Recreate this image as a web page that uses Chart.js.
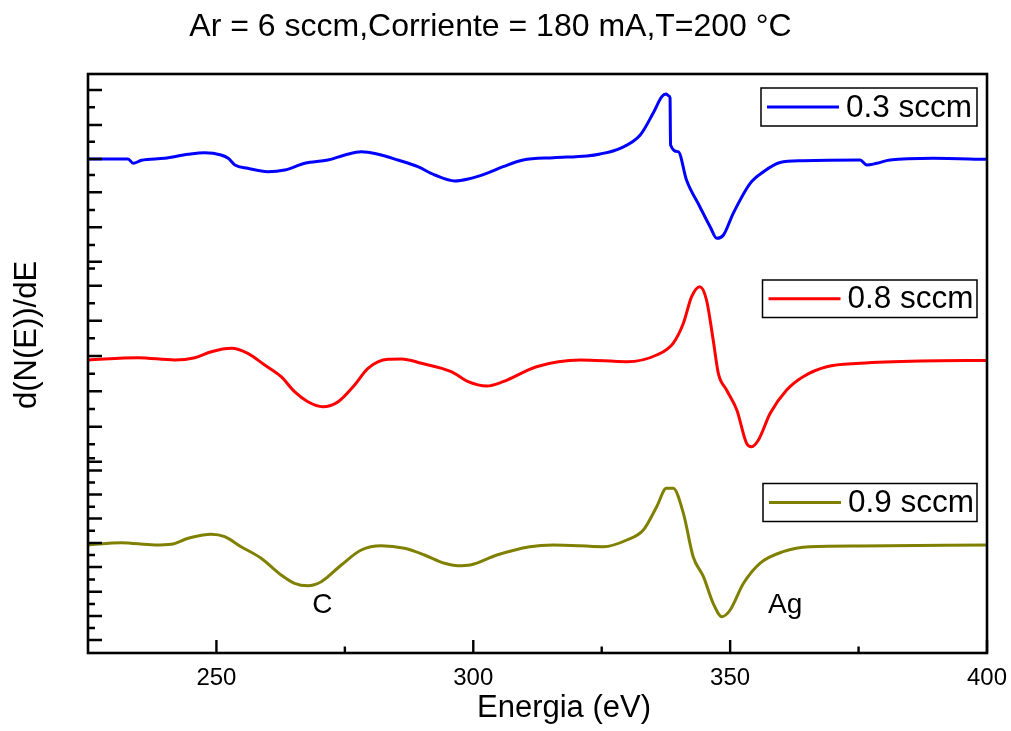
<!DOCTYPE html>
<html>
<head>
<meta charset="utf-8">
<script src="https://cdn.jsdelivr.net/npm/chart.js@4.4.1/dist/chart.umd.min.js"></script>
<style>
  html, body { margin: 0; padding: 0; background: #ffffff; }
  #wrap { width: 1011px; height: 731px; position: relative; }
</style>
</head>
<body>
<div id="wrap"><canvas id="c" width="1011" height="731"></canvas></div>
<script>
// ---------------- data ----------------
const chartTitle = 'Ar = 6 sccm,Corriente = 180 mA,T=200 °C';
const xTitle = 'Energia (eV)';
const yTitle = 'd(N(E))/dE';
const seriesLabels = ['0.3 sccm', '0.8 sccm', '0.9 sccm'];

const energy03 = [225.0, 232.8, 233.8, 235.4, 239.9, 244.5, 247.7, 250.9, 252.3, 253.6, 256.1, 260.0, 263.3, 267.2, 271.7, 275.0, 278.2, 281.5, 285.3, 289.2, 292.5, 296.4, 299.0, 302.6, 305.8, 309.7, 315.6, 322.1, 324.7, 328.6, 332.5, 335.0, 336.7, 337.5, 338.1, 338.3, 338.4, 339.9, 341.5, 344.1, 346.1, 347.4, 348.7, 350.6, 353.9, 356.5, 359.7, 364.2, 375.3, 376.6, 378.5, 381.1, 389.5, 400.0];
const dNdE03 = [4.94, 4.94, 4.897, 4.927, 4.947, 4.987, 5.003, 4.98, 4.947, 4.88, 4.847, 4.813, 4.83, 4.897, 4.93, 4.98, 5.013, 4.987, 4.93, 4.863, 4.78, 4.72, 4.74, 4.797, 4.863, 4.93, 4.953, 4.97, 4.99, 5.047, 5.18, 5.397, 5.563, 5.59, 5.57, 5.55, 5.08, 5.013, 4.73, 4.463, 4.263, 4.147, 4.18, 4.397, 4.697, 4.813, 4.905, 4.923, 4.93, 4.88, 4.897, 4.93, 4.947, 4.937];

const energy08 = [225.0, 234.7, 241.9, 245.8, 249.0, 252.9, 256.1, 259.4, 262.6, 265.2, 267.8, 270.7, 273.7, 276.9, 279.5, 283.4, 286.0, 289.9, 295.7, 299.0, 302.6, 305.8, 312.3, 320.8, 329.9, 335.7, 338.9, 340.9, 342.5, 344.1, 345.4, 346.7, 347.7, 349.3, 351.3, 353.2, 354.2, 355.5, 357.8, 361.0, 364.2, 368.8, 375.3, 387.0, 400.0];
const dNdE08 = [2.93, 2.953, 2.93, 2.953, 3.013, 3.047, 2.997, 2.88, 2.763, 2.613, 2.513, 2.463, 2.513, 2.68, 2.847, 2.937, 2.94, 2.897, 2.813, 2.713, 2.67, 2.713, 2.863, 2.93, 2.913, 2.98, 3.097, 3.297, 3.563, 3.663, 3.53, 3.13, 2.797, 2.63, 2.43, 2.097, 2.063, 2.13, 2.397, 2.63, 2.763, 2.863, 2.897, 2.92, 2.925];

const energy09 = [225.0, 231.5, 238.0, 241.2, 244.5, 249.0, 251.6, 254.8, 258.7, 262.6, 265.2, 267.8, 270.4, 274.3, 278.2, 282.1, 286.6, 290.5, 294.4, 297.0, 299.4, 304.6, 311.0, 315.6, 325.3, 329.9, 333.1, 335.7, 337.6, 338.9, 340.9, 342.8, 344.8, 346.7, 348.4, 350.0, 352.6, 355.8, 360.3, 365.5, 375.3, 400.0];
const dNdE09 = [1.08, 1.103, 1.08, 1.087, 1.147, 1.187, 1.163, 1.063, 0.947, 0.78, 0.697, 0.673, 0.713, 0.88, 1.03, 1.073, 1.047, 0.98, 0.897, 0.873, 0.88, 0.98, 1.063, 1.08, 1.063, 1.13, 1.23, 1.463, 1.647, 1.647, 1.397, 0.963, 0.763, 0.497, 0.363, 0.43, 0.697, 0.897, 1.013, 1.063, 1.07, 1.08];

const xTickLabels = [250, 300, 350, 400];
const xMinorTicks = [275, 325, 375];
const yMajorTicks = [5.63, 5.28, 4.94, 4.607, 4.257, 3.913, 3.673, 3.323, 2.97, 2.617, 2.263, 1.913, 1.825, 1.585, 1.345, 1.10, 0.86, 0.613, 0.37, 0.13];
const yMinorTicks = [5.457, 5.113, 4.78, 4.43, 4.08, 3.845, 3.497, 3.147, 2.792, 2.44, 2.087, 1.947, 1.705, 1.463, 1.222, 0.98, 0.735, 0.49, 0.25];

const annotationText = ['C', 'Ag'];
const annotationE = [270.6, 360.7];
const annotationV = [0.40, 0.40];

// ---------------- styles / layout ----------------
const FONT = '"Liberation Sans", Arial, Helvetica, sans-serif';
const colors = ['#0000ff', '#ff0000', '#808000'];
const legendBoxes = [
  { x: 761, y: 88, w: 216, h: 38 },
  { x: 762.5, y: 280, w: 214.5, h: 37.5 },
  { x: 763, y: 483.5, w: 214, h: 38 }
];

function toXY(es, vs) { return es.map((e, i) => ({ x: e, y: vs[i] })); }

const decorPlugin = {
  id: 'decor',
  afterDatasetsDraw(chart) {
    const ctx = chart.ctx;
    const a = chart.chartArea;
    const xs = chart.scales.x, ys = chart.scales.y;
    ctx.save();
    ctx.strokeStyle = '#000';
    ctx.fillStyle = '#000';
    ctx.lineCap = 'butt';

    // frame
    ctx.lineWidth = 2.6;
    ctx.strokeRect(a.left, a.top, a.right - a.left, a.bottom - a.top);

    // y ticks (inward)
    ctx.lineWidth = 2.4;
    ctx.beginPath();
    yMajorTicks.forEach(v => { const p = ys.getPixelForValue(v); ctx.moveTo(a.left, p); ctx.lineTo(a.left + 14, p); });
    yMinorTicks.forEach(v => { const p = ys.getPixelForValue(v); ctx.moveTo(a.left, p); ctx.lineTo(a.left + 7, p); });
    // x ticks (inward)
    xTickLabels.forEach(v => { const p = xs.getPixelForValue(v); ctx.moveTo(p, a.bottom); ctx.lineTo(p, a.bottom - 13); });
    xMinorTicks.forEach(v => { const p = xs.getPixelForValue(v); ctx.moveTo(p, a.bottom); ctx.lineTo(p, a.bottom - 6.5); });
    ctx.stroke();

    // legends
    legendBoxes.forEach((b, i) => {
      ctx.fillStyle = '#fff';
      ctx.fillRect(b.x, b.y, b.w, b.h);
      ctx.lineWidth = 1.5;
      ctx.strokeStyle = '#000';
      ctx.strokeRect(b.x, b.y, b.w, b.h);
      const cy = b.y + b.h / 2;
      ctx.strokeStyle = chart.data.datasets[i].borderColor;
      ctx.lineWidth = 3;
      ctx.beginPath();
      ctx.moveTo(b.x + 6, cy); ctx.lineTo(b.x + 78, cy);
      ctx.stroke();
      ctx.fillStyle = '#000';
      ctx.font = '31.5px ' + FONT;
      ctx.textAlign = 'left';
      ctx.textBaseline = 'middle';
      ctx.fillText(chart.data.datasets[i].label, b.x + 85, cy + 1);
    });

    // annotations
    ctx.fillStyle = '#000';
    ctx.font = '28px ' + FONT;
    ctx.textAlign = 'center';
    ctx.textBaseline = 'alphabetic';
    annotationText.forEach((t, i) => {
      ctx.fillText(t, xs.getPixelForValue(annotationE[i]), ys.getPixelForValue(annotationV[i]));
    });

    // chart title
    ctx.font = '32px ' + FONT;
    ctx.textAlign = 'center';
    ctx.fillText(chartTitle, 490.5, 36);

    // x title
    ctx.font = '31px ' + FONT;
    ctx.fillText(xTitle, 564, 717);

    // y title
    ctx.save();
    ctx.translate(36, 335);
    ctx.rotate(-Math.PI / 2);
    ctx.font = '31px ' + FONT;
    ctx.textAlign = 'center';
    ctx.textBaseline = 'alphabetic';
    ctx.fillText(yTitle, 0, 0);
    ctx.restore();

    ctx.restore();
  }
};

new Chart(document.getElementById('c'), {
  type: 'line',
  data: {
    datasets: [
      { label: seriesLabels[0], data: toXY(energy03, dNdE03), borderColor: colors[0] },
      { label: seriesLabels[1], data: toXY(energy08, dNdE08), borderColor: colors[1] },
      { label: seriesLabels[2], data: toXY(energy09, dNdE09), borderColor: colors[2] }
    ].map(d => Object.assign(d, { borderWidth: 3, pointRadius: 0, fill: false, cubicInterpolationMode: 'monotone' }))
  },
  options: {
    responsive: false,
    animation: false,
    events: [],
    layout: { padding: { left: 88, top: 74, right: 24, bottom: 0 } },
    plugins: { legend: { display: false }, title: { display: false }, tooltip: { enabled: false } },
    scales: {
      x: {
        type: 'linear',
        min: 225, max: 400,
        grid: { display: false, drawTicks: false },
        border: { display: false },
        afterBuildTicks: s => { s.ticks = xTickLabels.map(v => ({ value: v })); },
        afterFit: s => { s.height = 78; s.paddingLeft = 0; s.paddingRight = 0; },
        ticks: { color: '#000', padding: 11, maxRotation: 0, font: { size: 24, family: FONT }, callback: v => String(v) }
      },
      y: {
        type: 'linear',
        display: false,
        min: 0, max: 5.79
      }
    }
  },
  plugins: [decorPlugin]
});
</script>
</body>
</html>
